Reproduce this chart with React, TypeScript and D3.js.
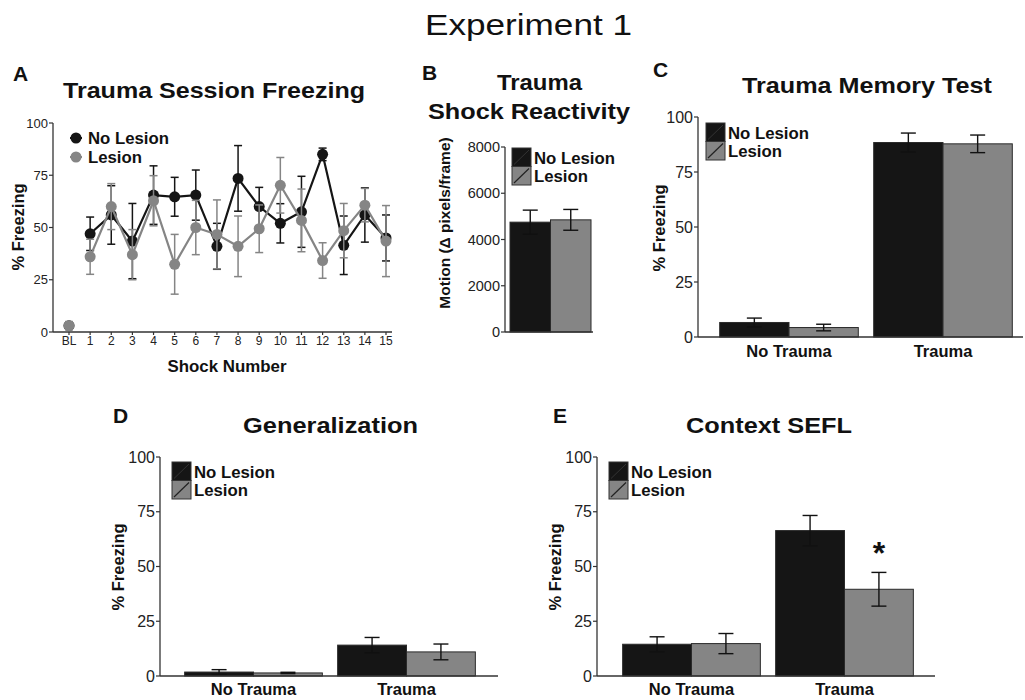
import React from 'react';
import * as d3 from 'd3';

const FONT = '"Liberation Sans", Arial, Helvetica, sans-serif';
const BLACK = '#151515';
const GRAY = '#858585';
const AXIS = '#333';

// Panel A: trauma session freezing, per shock
const shockLabels = ['BL', '1', '2', '3', '4', '5', '6', '7', '8', '9', '10', '11', '12', '13', '14', '15'];
const noLesionShock = [3, 47, 56, 43.5, 65.5, 64.7, 65.5, 41, 73.5, 60, 52, 57.5, 85, 41.5, 56, 45];
const noLesionShockErr = [1.5, 8, 14, 18, 14, 9.3, 12, 11, 15.7, 9.2, 9.4, 17, 3, 14, 13, 11];
const lesionShock = [3, 36, 60, 37, 62.8, 32.4, 50, 46.7, 41, 49.4, 70.2, 53.4, 34.2, 48.5, 60.7, 43.5];
const lesionShockErr = [2, 8.4, 11, 12, 12, 14.3, 13, 16.5, 14.5, 11.4, 13.3, 15, 8.5, 13, 8, 17];

// Panel B: shock reactivity
const groups = ['No Lesion', 'Lesion'];
const reactivityMean = [4750, 4850];
const reactivityErr = [520, 450];
const reactivityTicks = [0, 2000, 4000, 6000, 8000];

// Panels C-E
const conditions = ['No Trauma', 'Trauma'];
const percentTicks = [0, 25, 50, 75, 100];
const memoryNoLesion = [6.6, 88.4];
const memoryNoLesionErr = [2, 4.3];
const memoryLesion = [4.3, 87.8];
const memoryLesionErr = [1.5, 4];
const generalNoLesion = [1.8, 14.1];
const generalNoLesionErr = [1.1, 3.5];
const generalLesion = [1.4, 11];
const generalLesionErr = [0.3, 3.6];
const seflNoLesion = [14.5, 66.4];
const seflNoLesionErr = [3.4, 6.9];
const seflLesion = [14.8, 39.6];
const seflLesionErr = [4.6, 7.7];

type TxtProps = {
  x: number; y: number; size: number; bold?: boolean; anchor?: string;
  len?: number; fill?: string; rotate?: boolean; children: React.ReactNode;
};

const Txt = ({ x, y, size, bold, anchor = 'start', len, fill = '#111', rotate, children }: TxtProps) => (
  <text
    x={rotate ? 0 : x}
    y={rotate ? 0 : y}
    transform={rotate ? `translate(${x},${y}) rotate(-90)` : undefined}
    dy={rotate ? '0.35em' : undefined}
    fontFamily={FONT}
    fontSize={size}
    fontWeight={bold ? 'bold' : 'normal'}
    textAnchor={anchor}
    fill={fill}
    textLength={len}
    lengthAdjust={len ? 'spacingAndGlyphs' : undefined}
  >
    {children}
  </text>
);

const YAxis = ({ scale, x, ticks, size, fmt }: { scale: d3.ScaleLinear<number, number>; x: number; ticks: number[]; size: number; fmt?: (d: number) => string }) => {
  const [r0, r1] = scale.range();
  return (
    <g>
      <line x1={x} x2={x} y1={r0} y2={r1} stroke={AXIS} strokeWidth={1.3} />
      {ticks.map(t => (
        <g key={t}>
          <line x1={x - 4} x2={x} y1={scale(t)} y2={scale(t)} stroke={AXIS} strokeWidth={1.2} />
          <text x={x - 5} y={scale(t)} dy="0.35em" textAnchor="end" fontFamily={FONT} fontSize={size} fill="#222">
            {fmt ? fmt(t) : t}
          </text>
        </g>
      ))}
    </g>
  );
};

const ErrBar = ({ cx, top, bottom, cap, color, width = 1.4 }: { cx: number; top: number; bottom: number; cap: number; color: string; width?: number }) => (
  <g stroke={color} strokeWidth={width}>
    <line x1={cx} x2={cx} y1={top} y2={bottom} />
    <line x1={cx - cap / 2} x2={cx + cap / 2} y1={top} y2={top} />
    <line x1={cx - cap / 2} x2={cx + cap / 2} y1={bottom} y2={bottom} />
  </g>
);

const BoxLegend = ({ x, y }: { x: number; y: number }) => {
  const w = 19, h = 18.5;
  return (
    <g>
      <rect x={x} y={y} width={w} height={h} fill={BLACK} stroke={AXIS} strokeWidth={1} />
      <line x1={x + 2} y1={y + h - 2} x2={x + w - 2} y2={y + 2} stroke="#333" strokeWidth={1} />
      <rect x={x} y={y + h} width={w} height={h} fill={GRAY} stroke={AXIS} strokeWidth={1} />
      <line x1={x + 2} y1={y + 2 * h - 2} x2={x + w - 2} y2={y + h + 2} stroke="#222" strokeWidth={1.2} />
      <Txt x={x + w + 3} y={y + h - 3} size={16} bold len={81}>No Lesion</Txt>
      <Txt x={x + w + 3} y={y + 2 * h - 3} size={16} bold len={54}>Lesion</Txt>
    </g>
  );
};

type BarPanelProps = {
  x0: number; x1: number; band: [number, number]; yRange: [number, number];
  noLesion: number[]; noLesionErr: number[]; lesion: number[]; lesionErr: number[];
  labelY: number; legendX: number; legendY: number; star?: boolean;
};

const BarPanel = ({ x0, x1, band, yRange, noLesion, noLesionErr, lesion, lesionErr, labelY, legendX, legendY, star }: BarPanelProps) => {
  const y = d3.scaleLinear().domain([0, 100]).range(yRange);
  const x = d3.scaleBand<string>().domain(conditions).range(band).paddingInner(0.1).paddingOuter(0.05);
  const inner = d3.scaleBand<string>().domain(groups).range([0, x.bandwidth()]);
  const series = [
    { name: groups[0], vals: noLesion, errs: noLesionErr, fill: BLACK },
    { name: groups[1], vals: lesion, errs: lesionErr, fill: GRAY },
  ];
  return (
    <g>
      {series.map(s =>
        conditions.map((c, i) => {
          const bx = (x(c) ?? 0) + (inner(s.name) ?? 0);
          return (
            <rect key={s.name + c} x={bx} y={y(s.vals[i])} width={inner.bandwidth()} height={y(0) - y(s.vals[i])}
              fill={s.fill} stroke="#2a2a2a" strokeWidth={1} />
          );
        })
      )}
      {series.map(s =>
        conditions.map((c, i) => {
          const cx = (x(c) ?? 0) + (inner(s.name) ?? 0) + inner.bandwidth() / 2;
          return (
            <ErrBar key={'e' + s.name + c} cx={cx} top={y(s.vals[i] + s.errs[i])} bottom={y(s.vals[i] - s.errs[i])} cap={15} color="#111" />
          );
        })
      )}
      {star && (
        <Txt x={(x('Trauma') ?? 0) + (inner('Lesion') ?? 0) + inner.bandwidth() / 2} y={y(lesion[1] + lesionErr[1]) - 8} size={32} bold anchor="middle">*</Txt>
      )}
      <YAxis scale={y} x={x0} ticks={percentTicks} size={16} />
      <line x1={x0} x2={x1} y1={y(0)} y2={y(0)} stroke={AXIS} strokeWidth={1.3} />
      {conditions.map(c => (
        <Txt key={c} x={(x(c) ?? 0) + x.bandwidth() / 2} y={labelY} size={16.5} bold anchor="middle">{c}</Txt>
      ))}
      <BoxLegend x={legendX} y={legendY} />
    </g>
  );
};

const ShockPanel = () => {
  const x = d3.scalePoint<string>().domain(shockLabels).range([69, 386]);
  const y = d3.scaleLinear().domain([0, 100]).range([332, 123]);
  const series = [
    { name: 'No Lesion', vals: noLesionShock, errs: noLesionShockErr, color: BLACK },
    { name: 'Lesion', vals: lesionShock, errs: lesionShockErr, color: GRAY },
  ];
  const line = d3.line<[string, number]>().x(d => x(d[0]) ?? 0).y(d => y(d[1]));
  return (
    <g>
      <YAxis scale={y} x={53} ticks={percentTicks} size={13} />
      <line x1={53} x2={392} y1={y(0)} y2={y(0)} stroke={AXIS} strokeWidth={1.3} />
      {shockLabels.map(l => (
        <g key={l}>
          <line x1={x(l)} x2={x(l)} y1={y(0)} y2={y(0) + 3} stroke={AXIS} strokeWidth={1.2} />
          <Txt x={x(l) ?? 0} y={y(0) + 13} size={12} anchor="middle" fill="#222">{l}</Txt>
        </g>
      ))}
      {series.map(s => (
        <g key={s.name}>
          {shockLabels.map((l, i) => (
            <ErrBar key={l} cx={x(l) ?? 0} top={y(s.vals[i] + s.errs[i])} bottom={y(s.vals[i] - s.errs[i])} cap={8} color={s.color} width={1.5} />
          ))}
          <path d={line(shockLabels.slice(1).map((l, i) => [l, s.vals[i + 1]] as [string, number])) ?? ''}
            fill="none" stroke={s.color} strokeWidth={2.2} />
          {shockLabels.map((l, i) => (
            <circle key={'c' + l} cx={x(l)} cy={y(s.vals[i])} r={5.5} fill={s.color} />
          ))}
        </g>
      ))}
      <circle cx={76} cy={138} r={5.5} fill={BLACK} />
      <line x1={70} x2={82} y1={138} y2={138} stroke={BLACK} strokeWidth={2} />
      <Txt x={88} y={143.5} size={16} bold len={81}>No Lesion</Txt>
      <circle cx={76} cy={157} r={5.5} fill={GRAY} />
      <line x1={70} x2={82} y1={157} y2={157} stroke={GRAY} strokeWidth={2} />
      <Txt x={88} y={162.5} size={16} bold len={54}>Lesion</Txt>
      <Txt x={227} y={372} size={17} bold anchor="middle" len={119}>Shock Number</Txt>
      <Txt x={18} y={227} size={16.5} bold rotate anchor="middle">% Freezing</Txt>
    </g>
  );
};

const ReactivityPanel = () => {
  const y = d3.scaleLinear().domain([0, 8000]).range([332, 147]);
  const x = d3.scaleBand<string>().domain(groups).range([510, 591]);
  return (
    <g>
      {groups.map((g, i) => (
        <rect key={g} x={x(g)} y={y(reactivityMean[i])} width={x.bandwidth()} height={y(0) - y(reactivityMean[i])}
          fill={i === 0 ? BLACK : GRAY} stroke="#2a2a2a" strokeWidth={1} />
      ))}
      {groups.map((g, i) => (
        <ErrBar key={'e' + g} cx={(x(g) ?? 0) + x.bandwidth() / 2} top={y(reactivityMean[i] + reactivityErr[i])}
          bottom={y(reactivityMean[i] - reactivityErr[i])} cap={15} color="#111" />
      ))}
      <YAxis scale={y} x={505} ticks={reactivityTicks} size={14.5} />
      <line x1={505} x2={593} y1={y(0)} y2={y(0)} stroke={AXIS} strokeWidth={1.3} />
      <BoxLegend x={512} y={148} />
      <Txt x={445} y={223} size={15.5} bold rotate anchor="middle">Motion (Δ pixels/frame)</Txt>
    </g>
  );
};

export default function App() {
  return (
    <div style={{ position: 'absolute', left: 0, top: 0 }}>
      <svg width={1025} height={700} style={{ display: 'block', background: '#fff' }}>
        <Txt x={425} y={35} size={29} len={207}>Experiment 1</Txt>

        <Txt x={13} y={81} size={21} bold>A</Txt>
        <Txt x={63} y={98} size={22} bold len={302}>Trauma Session Freezing</Txt>
        <ShockPanel />

        <Txt x={422} y={80} size={21} bold>B</Txt>
        <Txt x={497} y={90} size={22} bold len={85}>Trauma</Txt>
        <Txt x={428} y={119} size={22} bold len={202}>Shock Reactivity</Txt>
        <ReactivityPanel />

        <Txt x={653} y={77} size={21} bold>C</Txt>
        <Txt x={742} y={93} size={22} bold len={250}>Trauma Memory Test</Txt>
        <Txt x={659} y={228} size={16.5} bold rotate anchor="middle">% Freezing</Txt>
        <BarPanel x0={698} x1={1023} band={[712, 1020]} yRange={[337, 117]}
          noLesion={memoryNoLesion} noLesionErr={memoryNoLesionErr} lesion={memoryLesion} lesionErr={memoryLesionErr}
          labelY={357} legendX={706} legendY={123} />

        <Txt x={113} y={423} size={21} bold>D</Txt>
        <Txt x={243} y={433} size={22} bold len={175}>Generalization</Txt>
        <Txt x={118} y={567} size={16.5} bold rotate anchor="middle">% Freezing</Txt>
        <BarPanel x0={160} x1={498} band={[177, 483]} yRange={[676, 457]}
          noLesion={generalNoLesion} noLesionErr={generalNoLesionErr} lesion={generalLesion} lesionErr={generalLesionErr}
          labelY={695} legendX={172} legendY={462} />

        <Txt x={553} y={423} size={21} bold>E</Txt>
        <Txt x={686} y={433} size={22} bold len={166}>Context SEFL</Txt>
        <Txt x={555} y={567} size={16.5} bold rotate anchor="middle">% Freezing</Txt>
        <BarPanel x0={597} x1={935} band={[615, 921]} yRange={[676, 457]}
          noLesion={seflNoLesion} noLesionErr={seflNoLesionErr} lesion={seflLesion} lesionErr={seflLesionErr}
          labelY={695} legendX={609} legendY={462} star />
      </svg>
    </div>
  );
}
